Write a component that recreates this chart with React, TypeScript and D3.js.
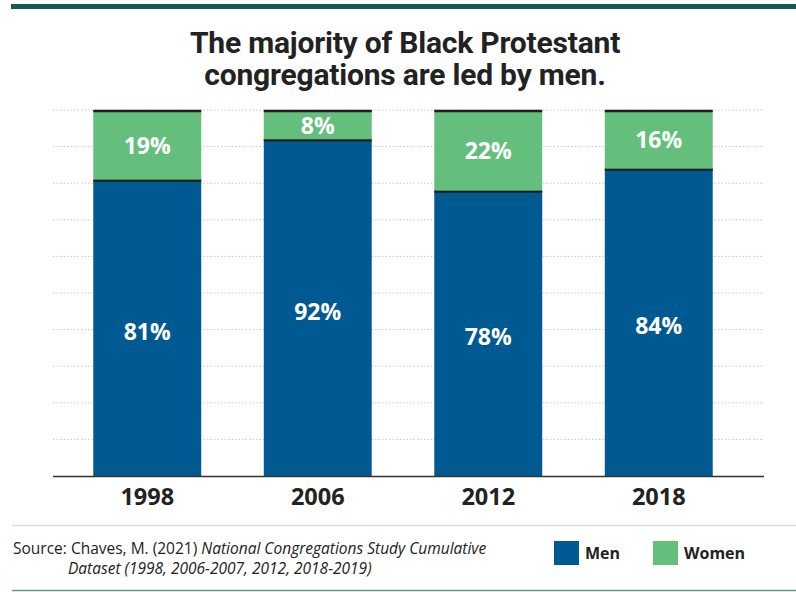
import React from "react";
import * as d3 from "d3";

const years = ["1998", "2006", "2012", "2018"];
const men = [81, 92, 78, 84];
const women = [19, 8, 22, 16];
const gridTicks = [10, 20, 30, 40, 50, 60, 70, 80, 90, 100];
const seriesNames = ["Men", "Women"];
const seriesColors = ["#005a91", "#63bf7b"];

const W = 796;
const H = 592;

export default function App() {
  const x = d3
    .scaleBand<string>()
    .domain(years)
    .range([62, 744])
    .paddingInner(0.367)
    .paddingOuter(0.1835);
  const y = d3.scaleLinear().domain([0, 100]).range([476, 110]);
  const rows = years.map((yr, i) => ({ year: yr, Men: men[i], Women: women[i] }));
  const stacked = d3.stack<any>().keys(seriesNames)(rows);
  const font = "'Open Sans', Roboto, sans-serif";
  const dark = "#222222";

  return (
    <svg
      width={W}
      height={H}
      style={{ position: "absolute", left: 0, top: 0, background: "#fff" }}
      fontFamily={font}
    >
      <rect x={11} y={4} width={W - 11} height={5} fill="#135e50" />
      <text
        x={405}
        y={53}
        textAnchor="middle"
        fontSize={30}
        fontWeight={700}
        fill={dark}
        fontFamily="Roboto, sans-serif"
        letterSpacing={-0.2}
      >
        The majority of Black Protestant
      </text>
      <text
        x={405}
        y={85}
        textAnchor="middle"
        fontSize={30}
        fontWeight={700}
        fill={dark}
        fontFamily="Roboto, sans-serif"
        letterSpacing={-0.2}
      >
        congregations are led by men.
      </text>

      {gridTicks.map((t) => (
        <line
          key={t}
          x1={53}
          x2={764}
          y1={y(t)}
          y2={y(t)}
          stroke="#c8c8c8"
          strokeWidth={1}
          strokeDasharray="1.5,2"
        />
      ))}

      {stacked.map((s, si) => (
        <g key={s.key}>
          {s.map((d, i) => {
            const x0 = x(years[i])!;
            const top = y(d[1]);
            const bot = y(d[0]);
            return (
              <g key={i}>
                <rect x={x0} y={top} width={x.bandwidth()} height={bot - top} fill={seriesColors[si]} />
                <line
                  x1={x0}
                  x2={x0 + x.bandwidth()}
                  y1={top + 1}
                  y2={top + 1}
                  stroke="#1e1e1e"
                  strokeWidth={2.5}
                />
                <text
                  x={x0 + x.bandwidth() / 2}
                  y={(top + bot) / 2 + (si === 0 ? 6 : 3)}
                  textAnchor="middle"
                  dominantBaseline="middle"
                  fill="#fff"
                  fontSize={23}
                  fontWeight={700}
                >
                  {d[1] - d[0]}%
                </text>
              </g>
            );
          })}
        </g>
      ))}

      <line x1={53} x2={764} y1={476.5} y2={476.5} stroke="#333" strokeWidth={1.5} />
      {years.map((yr) => (
        <text
          key={yr}
          x={x(yr)! + x.bandwidth() / 2}
          y={505}
          textAnchor="middle"
          fontSize={23.5}
          fontWeight={700}
          fill={dark}
        >
          {yr}
        </text>
      ))}

      <line x1={12} x2={W} y1={525.5} y2={525.5} stroke="#dcdcdc" strokeWidth={1.5} />
      <text x={13} y={554} fontSize={15.5} fill={dark}>
        Source: Chaves, M. (2021){" "}
        <tspan fontStyle="italic">National Congregations Study Cumulative</tspan>
      </text>
      <text x={68} y={574} fontSize={15.5} fill={dark} fontStyle="italic">
        Dataset (1998, 2006-2007, 2012, 2018-2019)
      </text>

      {seriesNames.map((n, i) => {
        const lx = [554, 653][i];
        return (
          <g key={n}>
            <rect x={lx} y={541} width={25} height={24} fill={seriesColors[i]} />
            <text x={lx + 31} y={559} fontSize={16} fontWeight={700} fill={dark}>
              {n}
            </text>
          </g>
        );
      })}

      <line x1={12} x2={W} y1={590.5} y2={590.5} stroke="#6f9488" strokeWidth={1.5} />
    </svg>
  );
}
